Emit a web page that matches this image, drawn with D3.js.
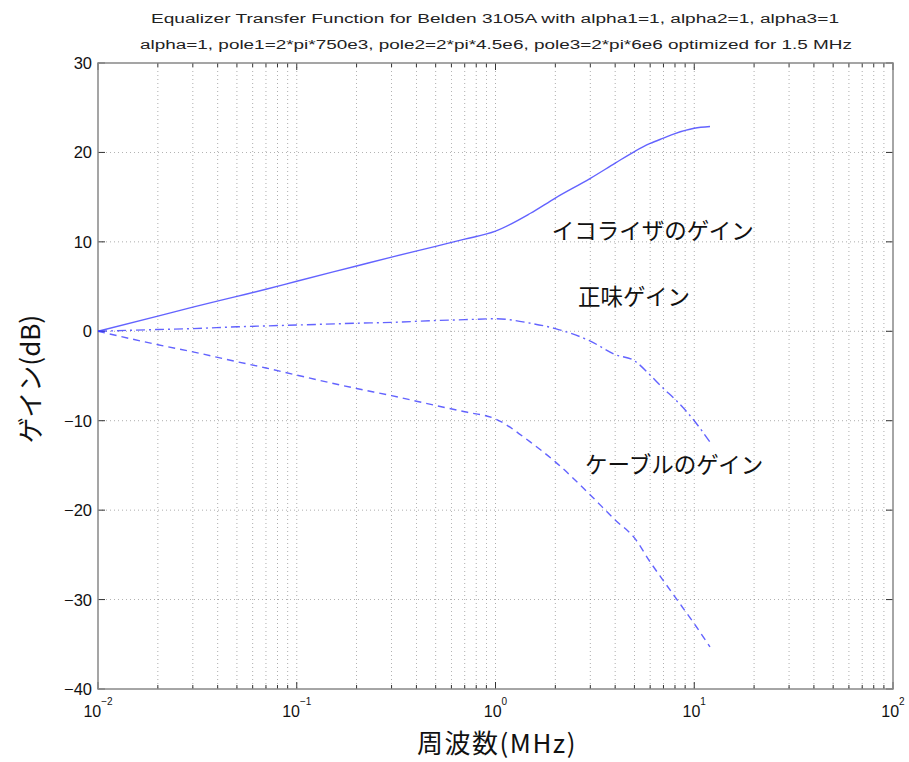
<!DOCTYPE html>
<html><head><meta charset="utf-8">
<script src="https://cdn.jsdelivr.net/npm/d3@7"></script>
<style>body{margin:0;background:#fff}svg{display:block}</style>
</head><body>
<svg id="c" width="909" height="762"></svg>
<script>
const freqs = [0.01,0.02,0.03,0.05,0.07,0.1,0.2,0.3,0.5,0.7,1,1.5,2,3,4,5,6,7,8,10,12];
const eqGain = [0,1.7,2.7,3.9,4.7,5.6,7.3,8.3,9.5,10.3,11.2,13.2,14.9,17.1,18.8,20.1,21.0,21.6,22.1,22.7,22.9];
const cableGain = [0,-1.5,-2.3,-3.4,-4.1,-4.9,-6.4,-7.2,-8.3,-9.0,-9.8,-12.4,-14.6,-18.3,-21.1,-23.1,-25.8,-27.9,-29.7,-32.7,-35.3];
const netGain = [0,0.2,0.3,0.5,0.6,0.7,0.9,1.0,1.2,1.3,1.4,0.9,0.3,-1.1,-2.6,-3.3,-4.9,-6.4,-7.6,-10.0,-12.4];
const yTicks = [30,20,10,0,-10,-20,-30,-40];
const xDecades = [-2,-1,0,1,2];
const titleLines = ["Equalizer Transfer Function for Belden 3105A with alpha1=1, alpha2=1, alpha3=1",
  "alpha=1, pole1=2*pi*750e3, pole2=2*pi*4.5e6, pole3=2*pi*6e6 optimized for 1.5 MHz"];
const annotations = [
  {text:"イコライザのゲイン", f:1.92, v:10.3},
  {text:"正味ゲイン", f:2.6, v:2.9},
  {text:"ケーブルのゲイン", f:2.82, v:-15.8}
];

const svg = d3.select("#c");
const L=98,R=893,T=63,B=689;
const x = d3.scaleLog().domain([0.01,100]).range([L,R]);
const y = d3.scaleLinear().domain([-40,30]).range([B,T]);

const minors=[];
for(let d=-2; d<2; d++) for(let k=1;k<10;k++) minors.push(k*Math.pow(10,d));
minors.push(100);

const grid = svg.append("g");
grid.selectAll("line.v").data(minors.filter(v=>v>0.01&&v<100)).enter().append("line")
  .attr("x1",d=>x(d)).attr("x2",d=>x(d)).attr("y1",T).attr("y2",B)
  .attr("stroke","#555").attr("stroke-width",0.8).attr("stroke-dasharray","1,3").attr("opacity",0.6);
grid.selectAll("line.h").data(yTicks.filter(v=>v>-40&&v<30)).enter().append("line")
  .attr("x1",L).attr("x2",R).attr("y1",d=>y(d)).attr("y2",d=>y(d))
  .attr("stroke","#555").attr("stroke-width",0.8).attr("stroke-dasharray","1,3").attr("opacity",0.6);

const tk = svg.append("g").attr("stroke","#333").attr("stroke-width",1);
minors.forEach(v=>{
  const major = Math.abs(Math.log10(v)-Math.round(Math.log10(v)))<1e-9;
  const len = major?7:4;
  tk.append("line").attr("x1",x(v)).attr("x2",x(v)).attr("y1",B).attr("y2",B-len);
  tk.append("line").attr("x1",x(v)).attr("x2",x(v)).attr("y1",T).attr("y2",T+len);
});
yTicks.forEach(v=>{
  tk.append("line").attr("x1",L).attr("x2",L+7).attr("y1",y(v)).attr("y2",y(v));
  tk.append("line").attr("x1",R).attr("x2",R-7).attr("y1",y(v)).attr("y2",y(v));
});

svg.append("rect").attr("x",L).attr("y",T).attr("width",R-L).attr("height",B-T)
  .attr("fill","none").attr("stroke","#888").attr("stroke-width",1.5);

svg.append("g").selectAll("text").data(yTicks).enter().append("text")
  .attr("x",L-6).attr("y",d=>y(d)+6).attr("text-anchor","end")
  .attr("font-family","Liberation Sans, Arial, sans-serif").attr("font-size",16.5).attr("fill","#111")
  .text(d=>d<0?"\u2212"+Math.abs(d):d);

const xl = svg.append("g").attr("font-family","Liberation Sans, Arial, sans-serif").attr("fill","#111");
xDecades.forEach(e=>{
  const t = xl.append("text").attr("x",x(Math.pow(10,e))).attr("y",717).attr("text-anchor","middle").attr("font-size",16);
  t.append("tspan").text("10");
  t.append("tspan").attr("dy",-12).attr("font-size",10).text(e<0?"\u2212"+Math.abs(e):e);
});

const line = vals => d3.line().curve(d3.curveMonotoneX).x((d,i)=>x(freqs[i])).y(d=>y(d))(vals);
const col="#3c3cff";
svg.append("path").attr("d",line(eqGain)).attr("fill","none").attr("stroke",col).attr("stroke-width",1.4).attr("opacity",0.8);
svg.append("path").attr("d",line(netGain)).attr("fill","none").attr("stroke",col).attr("stroke-width",1.4).attr("opacity",0.8).attr("stroke-dasharray","9,4,2,4");
svg.append("path").attr("d",line(cableGain)).attr("fill","none").attr("stroke",col).attr("stroke-width",1.4).attr("opacity",0.8).attr("stroke-dasharray","7,5");

const tt = svg.append("g").attr("font-family","Liberation Sans, Arial, sans-serif").attr("font-size",12.5).attr("fill","#222").attr("text-anchor","middle");
tt.append("text").attr("x",495).attr("y",23).attr("textLength",688).attr("lengthAdjust","spacingAndGlyphs").text(titleLines[0]);
tt.append("text").attr("x",496).attr("y",49).attr("textLength",712).attr("lengthAdjust","spacingAndGlyphs").text(titleLines[1]);

const jf = "Noto Sans CJK JP, sans-serif";
svg.append("g").selectAll("text").data(annotations).enter().append("text")
  .attr("x",d=>x(d.f)).attr("y",d=>y(d.v)).attr("font-family",jf).attr("font-size",22.5).attr("fill","#111")
  .text(d=>d.text);

svg.append("text").attr("x",497).attr("y",753).attr("text-anchor","middle").attr("font-family",jf).attr("font-size",26).attr("letter-spacing",1.5).attr("fill","#111").text("周波数(MHz)");
svg.append("text").attr("transform","translate(40,379) rotate(-90)").attr("text-anchor","middle").attr("font-family",jf).attr("font-size",26).attr("fill","#111").text("ゲイン(dB)");
</script>
</body></html>
